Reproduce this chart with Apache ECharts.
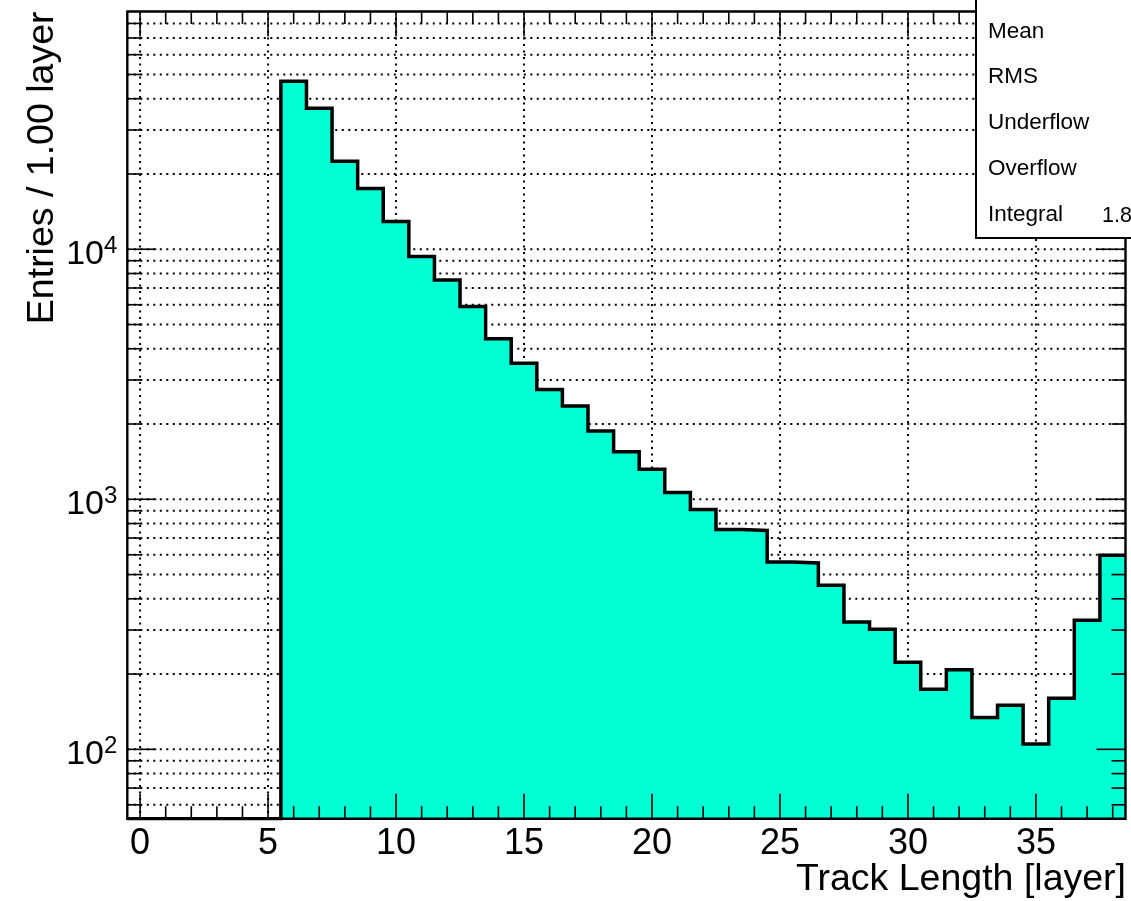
<!DOCTYPE html>
<html><head><meta charset="utf-8">
<script src="https://cdn.jsdelivr.net/npm/echarts@6/dist/echarts.min.js"></script>
<style>html,body{margin:0;padding:0;background:#fff}#c{width:1131px;height:901px}</style>
</head><body><div id="c"></div>
<script>
// ---- data ----
const binCenters = [0,1,2,3,4,5,6,7,8,9,10,11,12,13,14,15,16,17,18,19,20,21,22,23,24,25,26,27,28,29,30,31,32,33,34,35,36,37,38];
const binCounts  = [0,0,0,0,0,0,47000,36600,22500,17500,12900,9350,7540,5900,4390,3500,2750,2360,1875,1550,1320,1065,910,757,750,561,556,453,323,302,223,174,208,134,150,105,160,328,597];
const binWidth = 1;
const xMajorTicks = [0,5,10,15,20,25,30,35];
const xMinorTicks = [0,1,2,3,4,5,6,7,8,9,10,11,12,13,14,15,16,17,18,19,20,21,22,23,24,25,26,27,28,29,30,31,32,33,34,35,36,37,38];
const yMajorTicks = [100,1000,10000];
const yMinorTicks = [60,70,80,90,200,300,400,500,600,700,800,900,2000,3000,4000,5000,6000,7000,8000,9000,20000,30000,40000,50000,60000,70000,80000];
const statLabels = ['Mean','RMS','Underflow','Overflow','Integral'];
const xTitle = 'Track Length [layer]';
const yTitle = 'Entries / 1.00 layer';

const X_MIN = -0.5, X_MAX = 38.5, Y_MIN = 52.8, Y_MAX = 89300;
const FONT = 'Liberation Sans, Arial, Helvetica, sans-serif';

// histogram outline points from bins
const histPts = [];
binCenters.forEach((c, i) => {
  const v = binCounts[i] > 0 ? binCounts[i] : Y_MIN;
  histPts.push([c - binWidth / 2, v], [c + binWidth / 2, v]);
});

const integral = binCounts.reduce((a, b) => a + b, 0);
function rootExp(v) {
  const s = v.toExponential(3);
  return s.replace(/e([+-])(\d)$/, 'e$10$2');
}

const allY = yMajorTicks.concat(yMinorTicks).filter(v => v > Y_MIN && v < Y_MAX);
const tickData = xMinorTicks.map(v => [v, Y_MIN, xMajorTicks.includes(v) ? 1 : 0, 0])
  .concat(allY.map(v => [X_MIN, v, yMajorTicks.includes(v) ? 1 : 0, 1]));
const gridData = xMajorTicks.map(v => [v, Y_MIN, 1, 0])
  .concat(allY.map(v => [X_MIN, v, 0, 1]));

const dotted = { stroke: '#000', lineWidth: 2, lineDash: [2, 4.5] };

function renderGrid(params, api) {
  const cs = params.coordSys;
  const kind = api.value(3);
  if (kind === 0) {
    const x = api.coord([api.value(0), Y_MIN])[0];
    return { type: 'line', shape: { x1: x, y1: cs.y, x2: x, y2: cs.y + cs.height }, style: dotted };
  }
  const y = api.coord([X_MIN, api.value(1)])[1];
  return { type: 'line', shape: { x1: cs.x, y1: y, x2: cs.x + cs.width, y2: y }, style: dotted };
}

function renderTicks(params, api) {
  const cs = params.coordSys;
  const kind = api.value(3), major = api.value(2);
  const st = { stroke: '#000', lineWidth: 1.6 };
  const ch = [];
  if (kind === 0) {
    const x = api.coord([api.value(0), Y_MIN])[0];
    const L = major ? 25 : 12.5;
    const b = cs.y + cs.height;
    ch.push({ type: 'line', shape: { x1: x, y1: b, x2: x, y2: b - L }, style: st });
    ch.push({ type: 'line', shape: { x1: x, y1: cs.y, x2: x, y2: cs.y + L }, style: st });
  } else {
    const y = api.coord([X_MIN, api.value(1)])[1];
    const L = major ? 29 : 14;
    const r = cs.x + cs.width;
    ch.push({ type: 'line', shape: { x1: cs.x, y1: y, x2: cs.x + L, y2: y }, style: st });
    ch.push({ type: 'line', shape: { x1: r, y1: y, x2: r - L, y2: y }, style: st });
  }
  if (params.dataIndex === 0) {
    ch.push({ type: 'rect', shape: { x: cs.x, y: cs.y, width: cs.width, height: cs.height },
      style: { fill: 'none', stroke: '#000', lineWidth: 2.4 } });
  }
  return { type: 'group', children: ch };
}

const chart = echarts.init(document.getElementById('c'), null, { renderer: 'canvas' });
const graphic = [
  { type: 'rect', z: 100, shape: { x: 976, y: -10, width: 220, height: 248 },
    style: { fill: '#fff', stroke: '#000', lineWidth: 2 } },
  ...statLabels.map((t, i) => ({ type: 'text', z: 101, x: 988, y: 31.3 + i * 45.8,
    style: { text: t, fontSize: 22.5, fontFamily: FONT, fill: '#000', verticalAlign: 'middle' } })),
  { type: 'text', z: 101, x: 1102, y: 31.3 + 4 * 45.8 + 1.5,
    style: { text: rootExp(integral), fontSize: 21.5, fontFamily: FONT, fill: '#000', verticalAlign: 'middle' } },
  { type: 'text', x: 43, y: 11.5, rotation: Math.PI / 2,
    style: { text: yTitle, fontSize: 37.5, fontFamily: FONT, fill: '#000', align: 'right', verticalAlign: 'middle' } },
  { type: 'text', x: 1126, y: 880,
    style: { text: xTitle, fontSize: 37.5, fontFamily: FONT, fill: '#000', align: 'right', verticalAlign: 'middle' } }
];

chart.setOption({
  animation: false,
  backgroundColor: '#fff',
  grid: { left: 127.3, right: 5.5, top: 11.5, bottom: 82.3, containLabel: false },
  xAxis: {
    type: 'value', min: X_MIN, max: X_MAX, splitNumber: 8,
    axisLine: { show: false }, axisTick: { show: false }, splitLine: { show: false },
    axisLabel: {
      margin: 7, fontSize: 36, lineHeight: 36, fontFamily: FONT, color: '#000',
      formatter: v => xMajorTicks.includes(v) ? String(v) : ''
    }
  },
  yAxis: {
    type: 'log', logBase: 10, min: Y_MIN, max: Y_MAX,
    axisLine: { show: false }, axisTick: { show: false }, splitLine: { show: false },
    axisLabel: {
      margin: 10, color: '#000',
      formatter: v => {
        const l = Math.log10(v), e = Math.round(l);
        if (Math.abs(l - e) > 1e-6) return '';
        return '{b|10}{s|' + e + '}';
      },
      rich: {
        b: { fontSize: 34, lineHeight: 34, fontFamily: FONT, color: '#000', padding: [10, 0, 0, 0] },
        s: { fontSize: 24, lineHeight: 24, fontFamily: FONT, color: '#000', verticalAlign: 'top', padding: [2, 0, 0, 0] }
      }
    }
  },
  graphic: graphic,
  series: [
    { type: 'custom', name: 'grid', z: 1, silent: true, renderItem: renderGrid, data: gridData, clip: false },
    { type: 'line', name: 'hist', z: 2, data: histPts, symbol: 'none', silent: true,
      lineStyle: { color: '#000', width: 3.5, join: 'miter' },
      areaStyle: { color: '#00FFD5', opacity: 1, origin: 'start' } },
    { type: 'custom', name: 'ticks', z: 3, silent: true, renderItem: renderTicks, data: tickData, clip: false }
  ]
});
</script>
</body></html>
